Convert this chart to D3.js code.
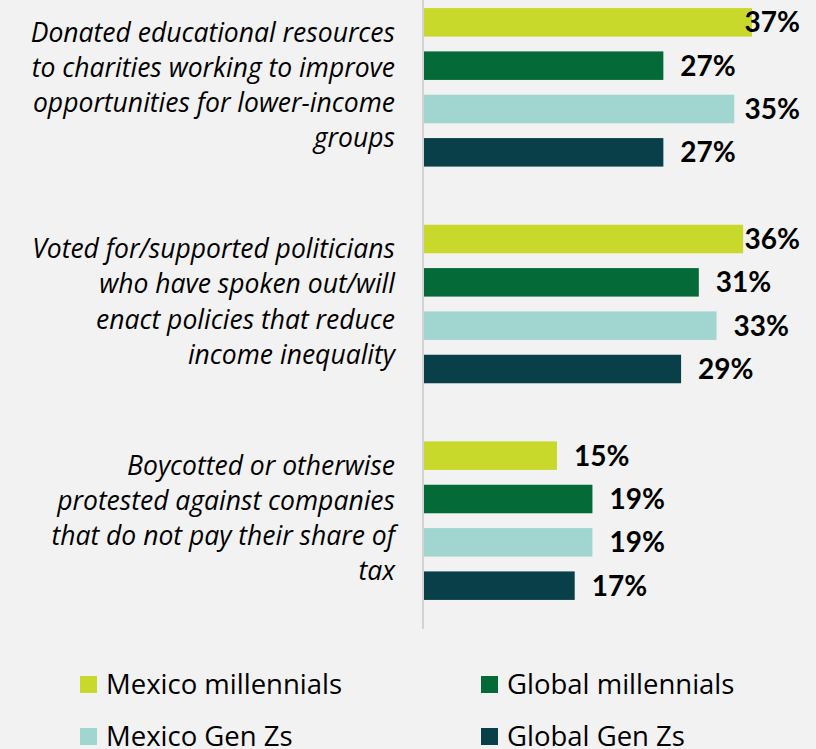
<!DOCTYPE html>
<html>
<head>
<meta charset="utf-8">
<script src="https://cdn.jsdelivr.net/npm/d3@7"></script>
<style>
  html, body { margin: 0; padding: 0; background: #f2f2f2; }
  svg { display: block; }
</style>
</head>
<body>
<svg id="chart" width="816" height="749"></svg>
<script>
// Share of respondents who took each action, by group
const categories = [
  ["Donated educational resources", "to charities working to improve", "opportunities for lower-income", "groups"],
  ["Voted for/supported politicians", "who have spoken out/will", "enact policies that reduce", "income inequality"],
  ["Boycotted or otherwise", "protested against companies", "that do not pay their share of", "tax"]
];
const seriesNames = ["Mexico millennials", "Global millennials", "Mexico Gen Zs", "Global Gen Zs"];
const mexicoMillennials = [37, 36, 15];
const globalMillennials = [27, 31, 19];
const mexicoGenZs = [35, 33, 19];
const globalGenZs = [27, 29, 17];
const seriesValues = [mexicoMillennials, globalMillennials, mexicoGenZs, globalGenZs];
const colors = ["#c8d92c", "#046a38", "#a0d5d0", "#093f48"];

const svg = d3.select("#chart");
const W = 816, H = 749;
svg.append("rect").attr("width", W).attr("height", H).attr("fill", "#f2f2f2");

const x0 = 424;
const x = d3.scaleLinear().domain([0, 37]).range([x0, x0 + 37 * 8.865]);

const catIdx = d3.range(categories.length);
const y = d3.scaleBand().domain(catIdx).range([-21, 629]).paddingInner(0).paddingOuter(0);
const yInner = d3.scaleBand().domain(d3.range(seriesNames.length))
  .range([0, y.bandwidth()]).paddingInner(0.342).paddingOuter(0.671);

// axis line
svg.append("line")
  .attr("x1", x0 - 1).attr("x2", x0 - 1)
  .attr("y1", 0).attr("y2", 629)
  .attr("stroke", "#d3d3d3").attr("stroke-width", 2);

const rows = [];
catIdx.forEach(c => seriesValues.forEach((vals, s) => rows.push({ c, s, v: vals[c] })));

svg.append("g").selectAll("rect").data(rows).join("rect")
  .attr("x", x0)
  .attr("y", d => y(d.c) + yInner(d.s))
  .attr("width", d => x(d.v) - x0)
  .attr("height", yInner.bandwidth())
  .attr("fill", d => colors[d.s]);

// value labels, kept inside the right edge
const valueFont = "Lato, 'Open Sans', sans-serif";
const textFont = "'Open Sans', 'Noto Sans', sans-serif";
const labels = svg.append("g").selectAll("text").data(rows).join("text")
  .attr("y", d => y(d.c) + yInner(d.s) + yInner.bandwidth() / 2)
  .attr("dy", "0.36em")
  .attr("font-family", valueFont)
  .attr("font-weight", "bold")
  .attr("font-size", 28)
  .attr("fill", "#000")
  .text(d => d.v + "%");
labels.each(function(d) {
  const w = this.getComputedTextLength();
  const right = 800;
  const xs = Math.min(x(d.v) + 17, right - w);
  d3.select(this).attr("x", xs);
});

// category labels
const catG = svg.append("g");
categories.forEach((lines, c) => {
  const cy = y(c) + y.bandwidth() / 2 + 7;
  const lh = 35.2;
  const t = catG.append("text")
    .attr("text-anchor", "end")
    .attr("font-family", textFont)
    .attr("font-style", "italic")
    .attr("font-size", 26.5)
    .attr("fill", "#000");
  lines.forEach((ln, i) => {
    t.append("tspan")
      .attr("x", 395)
      .attr("y", cy - ((lines.length - 1) / 2) * lh + i * lh)
      .text(ln);
  });
});

// legend
const legend = svg.append("g");
const legX = [80, 481], legY = [676, 728];
seriesNames.forEach((name, i) => {
  const lx = legX[i % 2], ly = legY[Math.floor(i / 2)];
  legend.append("rect").attr("x", lx).attr("y", ly).attr("width", 17).attr("height", 17).attr("fill", colors[i]);
  legend.append("text")
    .attr("x", lx + 26).attr("y", ly + 17.5)
    .attr("font-family", textFont)
    .attr("font-size", 27.5)
    .attr("fill", "#000")
    .text(name);
});
</script>
</body>
</html>
